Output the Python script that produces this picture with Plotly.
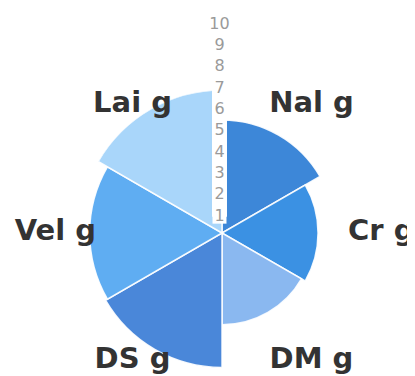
import math
import plotly.graph_objects as go

# ---- data ----
categories = ["Nal g", "Cr g", "DM g", "DS g", "Vel g", "Lai g"]
values = [5.3, 4.5, 4.3, 6.3, 6.2, 6.7]
colors = ["#3d87d8", "#3b91e3", "#8ab8f0", "#4a87d9", "#5fadf2", "#a9d6fa"]
radial_ticks = [1, 2, 3, 4, 5, 6, 7, 8, 9, 10]

n = len(categories)
width = 360.0 / n
thetas = [i * width + width / 2 for i in range(n)]

# ---- geometry (figure pixels; page body adds an 8px offset) ----
W, H = 407, 368
cx, cy = 214, 225          # centre of the bar subplot
R_MAX = 6.7                # radial range of the bar subplot
R1 = 143.0                 # its radius in px
scale = R1 / R_MAX         # px per unit
TICK_MAX = 10.05
R2 = TICK_MAX * scale      # radius of tick-label subplot (upper sector)
cx2, cy2 = 211.5, 230      # tick labels sit slightly left / below the axis
R3 = 171.0                 # radius of label subplot (px units)
SECTOR3 = [-56.5, 236.5]
DIAG_R, SIDE_R, SPREAD = 156.0, 126.0, 5.0

fig = go.Figure()

# bars
fig.add_trace(go.Barpolar(
    r=values, theta=thetas, width=[width] * n,
    marker=dict(color=colors, line=dict(color="rgba(255,255,255,0.9)", width=1.5)),
    hoverinfo="skip", showlegend=False, subplot="polar",
))

# white band behind the radial tick labels
fig.add_trace(go.Scatterpolar(
    r=radial_ticks, theta=[90] * len(radial_ticks),
    mode="lines+markers",
    line=dict(color="white", width=15),
    marker=dict(symbol="square", size=14, color="white"),
    cliponaxis=False, hoverinfo="skip", showlegend=False, subplot="polar2",
))
# radial tick labels
fig.add_trace(go.Scatterpolar(
    r=radial_ticks, theta=[90] * len(radial_ticks),
    mode="text", text=[str(t) for t in radial_ticks],
    textposition="middle center",
    textfont=dict(family="DejaVu Sans", size=16, color="#9a9a9a"),
    cliponaxis=False, hoverinfo="skip", showlegend=False, subplot="polar2",
))

# category labels (screen angles, counterclockwise from east)
lab_theta, lab_r, lab_pos = [], [], []
for t in thetas:
    a = 90 - t
    c, s = math.cos(math.radians(a)), math.sin(math.radians(a))
    if abs(c) > 0.99:
        lab_theta.append(a)
        lab_r.append(SIDE_R)
        lab_pos.append("middle right" if c > 0 else "middle left")
    else:
        lab_theta.append(a - SPREAD * (1 if s * c > 0 else -1))
        lab_r.append(DIAG_R)
        lab_pos.append("middle center")

fig.add_trace(go.Scatterpolar(
    r=lab_r, theta=lab_theta,
    mode="text", text=categories, textposition=lab_pos,
    textfont=dict(family="DejaVu Sans", size=29, color="#333333", weight="bold"),
    cliponaxis=False, hoverinfo="skip", showlegend=False, subplot="polar3",
))

k3 = math.sin(math.radians(-SECTOR3[0]))
fig.update_layout(
    width=W, height=H,
    margin=dict(l=0, r=0, t=0, b=0),
    paper_bgcolor="white", plot_bgcolor="white",
    polar=dict(
        domain=dict(x=[(cx - R1) / W, (cx + R1) / W],
                    y=[(H - cy - R1) / H, (H - cy + R1) / H]),
        bgcolor="white",
        radialaxis=dict(range=[0, R_MAX], visible=False),
        angularaxis=dict(type="linear", rotation=90, direction="clockwise",
                         visible=False),
        bargap=0,
    ),
    polar2=dict(
        sector=[45, 135],
        domain=dict(x=[(cx2 - R2 * 0.70710678) / W, (cx2 + R2 * 0.70710678) / W],
                    y=[(H - cy2) / H, (H - cy2 + R2) / H]),
        bgcolor="rgba(0,0,0,0)",
        radialaxis=dict(range=[0, TICK_MAX], visible=False),
        angularaxis=dict(type="linear", rotation=0, direction="counterclockwise",
                         visible=False),
    ),
    polar3=dict(
        sector=SECTOR3,
        domain=dict(x=[(cx - R3) / W, (cx + R3) / W],
                    y=[(H - cy - R3 * k3) / H, (H - cy + R3) / H]),
        bgcolor="rgba(0,0,0,0)",
        radialaxis=dict(range=[0, R3], visible=False),
        angularaxis=dict(type="linear", rotation=0, direction="counterclockwise",
                         visible=False),
    ),
)

fig.write_html("out.html")
